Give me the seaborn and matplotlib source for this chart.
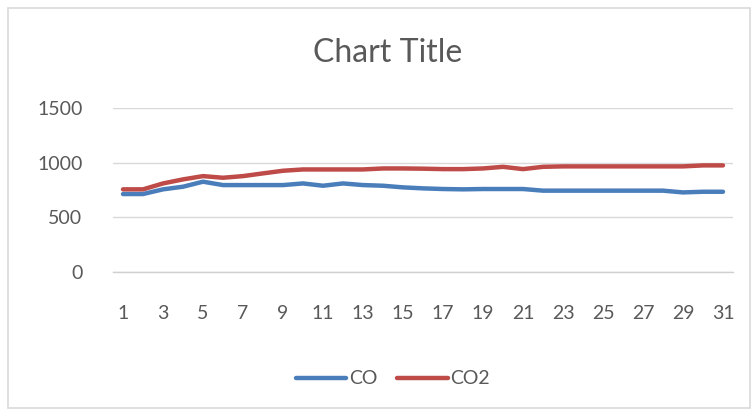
import numpy as np
import pandas as pd
import matplotlib
matplotlib.use("Agg")
import matplotlib.pyplot as plt
import seaborn as sns

days = list(range(1, 32))
co = [713, 713, 756, 780, 826, 795, 795, 795, 795, 810, 789, 810, 795, 789, 774, 765,
      759, 756, 759, 759, 759, 744, 744, 744, 744, 744, 744, 744, 728, 734, 734]
co2 = [756, 756, 810, 847, 877, 862, 877, 902, 926, 938, 938, 938, 938, 947, 947, 945,
       941, 941, 947, 962, 941, 962, 966, 966, 966, 966, 966, 966, 966, 975, 975]
series_names = ["CO", "CO2"]
xtick_labels = [str(d) for d in range(1, 32, 2)]
yticks = [0, 500, 1000, 1500]

df = pd.DataFrame({
    "day": days * 2,
    "value": co + co2,
    "series": ["CO"] * len(days) + ["CO2"] * len(days),
})

sns.set_theme(style="white")
plt.rcParams['font.family'] = ['Lato', 'DejaVu Sans']

text_color = "#595959"
fig = plt.figure(figsize=(7.51, 4.12), dpi=100)
ax = fig.add_axes([113/751, 1 - 272/412, (733 - 113)/751, (272 - 108)/412])

sns.lineplot(data=df, x="day", y="value", hue="series", hue_order=series_names,
             palette=["#4A7EBB", "#BE4B48"], linewidth=3.2, ax=ax, legend=True)

ax.set_xlim(0.5, 31.5)
ax.set_ylim(0, 1500)
ax.set_yticks(yticks)
ax.set_xticks(range(1, 32, 2))
ax.set_xticklabels(xtick_labels)
ax.set_xlabel("")
ax.set_ylabel("")
ax.grid(axis="y", color="#D9D9D9", linewidth=1)
ax.set_axisbelow(True)
for s in ["top", "right", "left"]:
    ax.spines[s].set_visible(False)
ax.spines["bottom"].set_color("#D0D0D0")
ax.spines["bottom"].set_linewidth(1)
ax.tick_params(axis="both", length=0, labelsize=14, labelcolor=text_color)
ax.tick_params(axis="x", pad=24)
ax.tick_params(axis="y", pad=22)

fig.text(388/751, 1 - 53/412, "Chart Title", ha="center", va="center",
         fontsize=23, fontweight="normal", color=text_color)

handles, labels = ax.get_legend_handles_labels()
leg = ax.legend(handles, labels, loc="center", bbox_to_anchor=(393/751, 1 - 379/412),
                bbox_transform=fig.transFigure, ncol=2, frameon=False,
                fontsize=14, handlelength=2.6, handletextpad=0.15, columnspacing=1.0)
for t in leg.get_texts():
    t.set_color(text_color)

border = plt.Rectangle((8/751, 1 - 408/412), (750 - 8)/751, (408 - 8)/412,
                       transform=fig.transFigure, fill=False,
                       edgecolor="#D9D9D9", linewidth=1.2)
fig.patches.append(border)

fig.savefig("out.png", dpi=100)
